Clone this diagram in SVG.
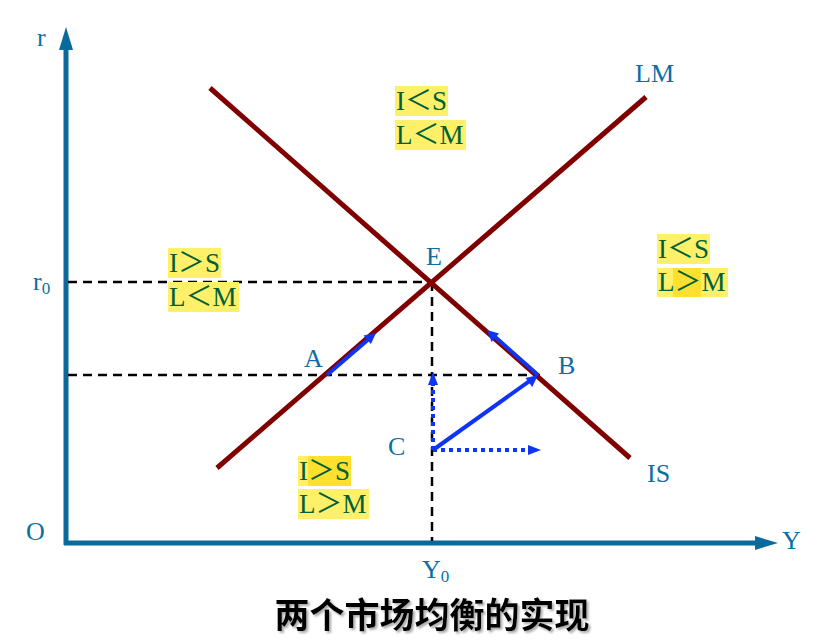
<svg xmlns="http://www.w3.org/2000/svg" width="837" height="643" viewBox="0 0 837 643">
  <style>
    .axis { stroke: #0B6A9C; stroke-width: 5; fill: none; }
    .axhead { fill: #0B6A9C; }
    .curve { stroke: #800000; stroke-width: 5; fill: none; }
    .dash { stroke: #000; stroke-width: 2.5; stroke-dasharray: 9 6; fill: none; }
    .blue { stroke: #1034F5; stroke-width: 4; fill: none; }
    .dot { stroke: #1034F5; stroke-width: 4; stroke-dasharray: 4 4; fill: none; }
    .bhead { fill: #1034F5; }
    .lbl { font-family: "Liberation Serif", "Times New Roman", serif; font-size: 26px; fill: #0B6FA4; }
    .sub { font-size: 17px; }
    .box { fill: #FFF06A; }
    .box2 { fill: #FFE02E; }
    .cond { font-family: "Liberation Serif", "Noto Sans CJK SC", serif; font-size: 27px; fill: #00603A; }
    .title { font-family: "Noto Sans CJK SC", "Noto Sans CJK JP", sans-serif; font-size: 35px; font-weight: 700; fill: #000; }
  </style>
  <defs>
    <filter id="sh" x="-10%" y="-30%" width="120%" height="160%">
      <feDropShadow dx="2" dy="2" stdDeviation="1" flood-color="#888" flood-opacity="0.7"/>
    </filter>
  </defs>
  <rect width="837" height="643" fill="#fff"/>

  <g id="axes">
    <line class="axis" x1="66" y1="545" x2="66" y2="48"/>
    <polygon class="axhead" points="66,27 59,50 73,50"/>
    <line class="axis" x1="64" y1="543" x2="757" y2="543"/>
    <polygon class="axhead" points="778,543 755,536 755,550"/>
    <text class="lbl" x="37" y="46">r</text>
    <text class="lbl" x="33" y="290">r<tspan class="sub" dy="4">0</tspan></text>
    <text class="lbl" x="26" y="540">O</text>
    <text class="lbl" x="782" y="549">Y</text>
    <text class="lbl" x="422" y="578">Y<tspan class="sub" dy="4">0</tspan></text>
  </g>

  <g id="connectors">
    <line class="dash" x1="68" y1="282" x2="432" y2="282"/>
    <line class="dash" x1="432" y1="282" x2="432" y2="541"/>
    <line class="dash" x1="68" y1="375" x2="540" y2="375"/>
    <line class="curve" x1="210" y1="88" x2="630" y2="458"/>
    <line class="curve" x1="217" y1="468" x2="646" y2="97"/>
    <line class="blue" x1="327" y1="375" x2="370" y2="338"/>
    <polygon class="bhead" points="376,333 363.5,335.4 370.9,343.9"/>
    <line class="blue" x1="538" y1="375" x2="493" y2="335"/>
    <polygon class="bhead" points="487,330 491.6,341.9 499,333.5"/>
    <line class="blue" x1="433" y1="450" x2="531.5" y2="379.6"/>
    <polygon class="bhead" points="538,375 525.6,377.9 532.2,387.1"/>
    <line class="dot" x1="433" y1="450" x2="433" y2="382"/>
    <polygon class="bhead" points="433,372 428,385 438,385"/>
    <line class="dot" x1="433" y1="450" x2="531" y2="450"/>
    <polygon class="bhead" points="541,450 528,445 528,455"/>
  </g>

  <g id="labels">
    <text class="lbl" x="426" y="265">E</text>
    <text class="lbl" x="635" y="82">LM</text>
    <text class="lbl" x="647" y="482">IS</text>
    <text class="lbl" x="304" y="367">A</text>
    <text class="lbl" x="558" y="374">B</text>
    <text class="lbl" x="388" y="455">C</text>
  </g>

  <g id="region-top">
    <rect class="box" x="395" y="86" width="53" height="30"/>
    <rect class="box" x="395" y="120" width="71" height="30"/>
    <text class="cond" x="396" y="110">I＜S</text>
    <text class="cond" x="396" y="144">L＜M</text>
  </g>

  <g id="region-left">
    <rect class="box" x="168" y="248" width="53" height="30"/>
    <rect class="box" x="168" y="282" width="71" height="30"/>
    <text class="cond" x="169" y="272">I＞S</text>
    <text class="cond" x="169" y="306">L＜M</text>
  </g>

  <g id="region-right">
    <rect class="box" x="657" y="234" width="53" height="30"/>
    <rect class="box" x="657" y="268" width="71" height="29"/>
    <rect class="box2" x="673" y="268" width="28" height="29"/>
    <text class="cond" x="658" y="258">I＜S</text>
    <text class="cond" x="658" y="291">L＞M</text>
  </g>

  <g id="region-bottom">
    <rect class="box" x="298" y="456" width="53" height="30"/>
    <rect class="box2" x="308" y="456" width="43" height="30"/>
    <rect class="box" x="298" y="489" width="71" height="30"/>
    <text class="cond" x="299" y="480">I＞S</text>
    <text class="cond" x="299" y="513">L＞M</text>
  </g>

  <g id="title">
    <text class="title" x="432" y="628" text-anchor="middle" filter="url(#sh)">两个市场均衡的实现</text>
  </g>
</svg>
